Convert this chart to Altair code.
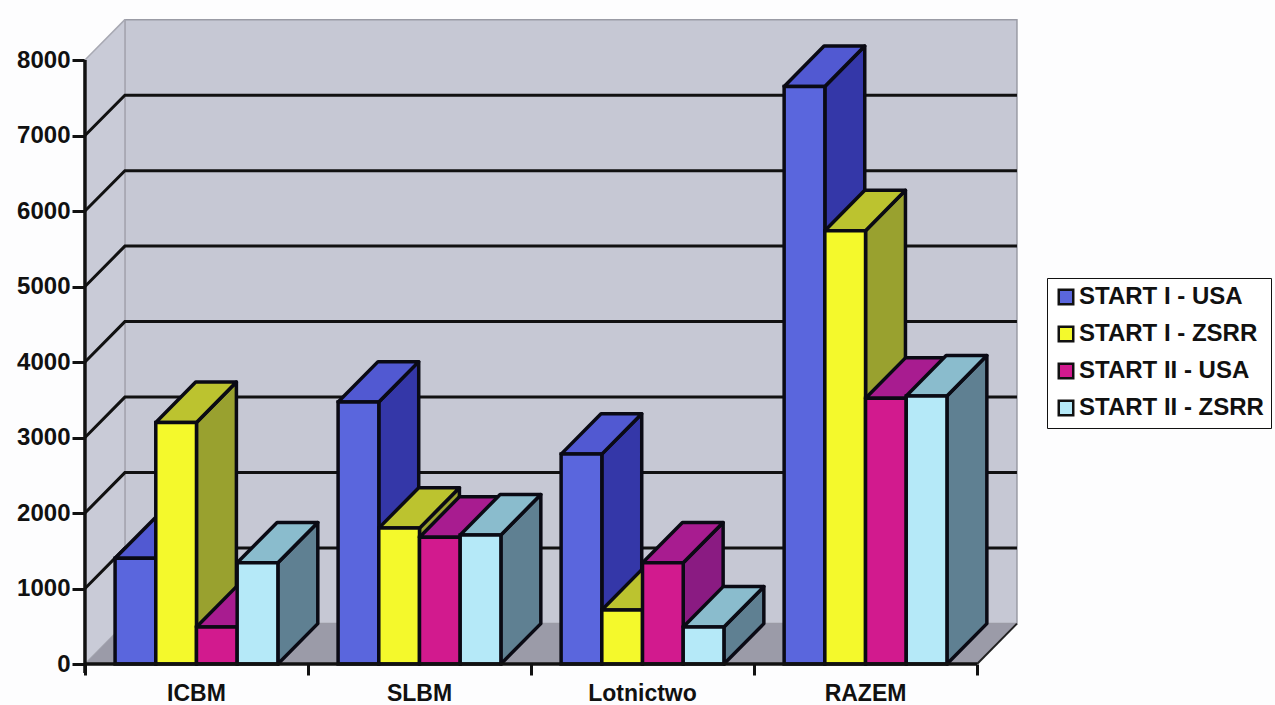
import altair as alt
import pandas as pd

categories = ["ICBM", "SLBM", "Lotnictwo", "RAZEM"]
series = ["START I - USA", "START I - ZSRR", "START II - USA", "START II - ZSRR"]
start1_usa = [1400, 3470, 2780, 7650]
start1_zsrr = [3200, 1800, 715, 5740]
start2_usa = [490, 1680, 1340, 3520]
start2_zsrr = [1340, 1710, 490, 3550]
values = [start1_usa, start1_zsrr, start2_usa, start2_zsrr]
y_ticks = [0, 1000, 2000, 3000, 4000, 5000, 6000, 7000, 8000]
x_ticks = [0, 1, 2, 3, 4]
grid_levels = [1000, 2000, 3000, 4000, 5000, 6000, 7000]

front_colors = ["#5a66dd", "#f4f92c", "#d21a8e", "#b5e9f8"]
top_colors = ["#5159d2", "#bcc32f", "#a81c90", "#8abccd"]
side_colors = ["#3437a8", "#99a12f", "#8a1b82", "#5f8092"]

# Oblique projection: each unit of depth shifts right and up by these data amounts
DEPTH_X = 0.179
DEPTH_Y = 535
GAP = 0.135
BAR = 0.1825
OUTLINE = "#0a0a14"

x_scale = alt.Scale(domain=[-0.381, 5.336], nice=False, zero=False)
y_scale = alt.Scale(domain=[-543, 8795], nice=False, zero=False)

# Every layer carries the same axis definitions so they merge into one pair of axes
x_axis = alt.Axis(values=x_ticks, labels=False, title=None, domain=False, grid=False,
                  offset=-41, tickSize=11, tickWidth=3, tickColor="#111111")
y_axis = alt.Axis(values=y_ticks, title=None, domain=False, grid=False, offset=-85,
                  tickSize=13, tickWidth=3, tickColor="#111111", labelFont="Liberation Sans",
                  labelFontSize=24, labelFontWeight="bold", labelColor="#111111", labelPadding=2,
                  format="d")


def X(field="x"):
    return alt.X(field, type="quantitative", scale=x_scale, axis=x_axis)


def Y(field="y"):
    return alt.Y(field, type="quantitative", scale=y_scale, axis=y_axis, stack=None)


# Side face with vertical edges, from lower and upper boundaries
def side_face(x0, low, high, fill, stroke=None, width=0):
    df = pd.DataFrame({"x": [x0, x0 + DEPTH_X], "y": [low, low + DEPTH_Y], "y2": [high, high + DEPTH_Y]})
    kw = {"stroke": stroke, "strokeWidth": width} if stroke else {}
    return alt.Chart(df).mark_area(color=fill, strokeJoin="round", **kw).encode(
        x=X(), y=Y(), y2=alt.Y2("y2")
    )


# Top face with horizontal edges
def top_face(x0, x1, level, fill, stroke=None, width=0):
    df = pd.DataFrame({
        "y": [level, level + DEPTH_Y],
        "x": [x0, x0 + DEPTH_X],
        "x2": [x1, x1 + DEPTH_X],
    })
    kw = {"stroke": stroke, "strokeWidth": width} if stroke else {}
    return alt.Chart(df).mark_area(color=fill, orient="horizontal", strokeJoin="round", **kw).encode(
        y=Y(), x=X(), x2=alt.X2("x2")
    )


layers = []

# Back wall
wall_df = pd.DataFrame({"x": [DEPTH_X], "x2": [4 + DEPTH_X], "y": [DEPTH_Y], "y2": [8000 + DEPTH_Y]})
layers.append(
    alt.Chart(wall_df).mark_rect(color="#c6c8d4", stroke="#9a9ba5", strokeWidth=1.5).encode(
        x=X(), x2=alt.X2("x2"), y=Y(), y2=alt.Y2("y2"),
    )
)

# Left wall and floor
layers.append(side_face(0, 0, 8000, "#c9cbd7", "#a8a9b3", 1.5))
layers.append(top_face(0, 4, 0, "#9b9ba8"))

# Gridlines run across the left wall and along the back wall
for level in grid_levels:
    grid_df = pd.DataFrame({"x": [0, DEPTH_X, 4 + DEPTH_X], "y": [level, level + DEPTH_Y, level + DEPTH_Y]})
    layers.append(
        alt.Chart(grid_df).mark_line(color="#111111", strokeWidth=3).encode(x=X(), y=Y())
    )

# Floor's right edge
edge_df = pd.DataFrame({"x": [4, 4 + DEPTH_X], "y": [0, DEPTH_Y]})
layers.append(alt.Chart(edge_df).mark_line(color="#222222", strokeWidth=2).encode(x=X(), y=Y()))

# Bars are painted left to right so each covers the side of the previous one
for c, category in enumerate(categories):
    for s, name in enumerate(series):
        x0 = c + GAP + s * BAR
        x1 = x0 + BAR
        v = values[s][c]
        layers.append(side_face(x1, 0, v, side_colors[s], OUTLINE, 3.5))
        layers.append(top_face(x0, x1, v, top_colors[s], OUTLINE, 3.5))
        front_df = pd.DataFrame({"x": [x0], "x2": [x1], "y": [0], "y2": [v], "series": [name]})
        layers.append(
            alt.Chart(front_df).mark_rect(stroke=OUTLINE, strokeWidth=3.5).encode(
                x=X(), x2=alt.X2("x2"), y=Y(), y2=alt.Y2("y2"),
                color=alt.Color(
                    "series:N",
                    scale=alt.Scale(domain=series, range=front_colors),
                    sort=series,
                    legend=alt.Legend(
                        title=None, orient="none", legendX=1047, legendY=278,
                        fillColor="#ffffff", strokeColor="#111111", padding=7,
                        symbolType="square", symbolSize=210, symbolStrokeColor="#111111",
                        symbolStrokeWidth=2.5, labelFont="Liberation Sans", labelFontSize=24,
                        labelFontWeight="bold", labelColor="#111111", labelLimit=260,
                        rowPadding=11, labelOffset=1,
                    ),
                ),
            )
        )

# Value axis line and category axis line
axis_v = pd.DataFrame({"x": [0, 0], "y": [-120, 8000]})
layers.append(alt.Chart(axis_v).mark_line(color="#111111", strokeWidth=3.5).encode(x=X(), y=Y()))
axis_h = pd.DataFrame({"x": [0, 4], "y": [0, 0]})
layers.append(alt.Chart(axis_h).mark_line(color="#111111", strokeWidth=3.5).encode(x=X(), y=Y()))

# Category names
label_df = pd.DataFrame({"x": [i + 0.5 for i in range(len(categories))], "y": [-395] * 4, "label": categories})
layers.append(
    alt.Chart(label_df).mark_text(
        font="Liberation Sans", fontSize=23, fontWeight="bold", color="#111111", baseline="middle"
    ).encode(x=X(), y=Y(), text="label:N")
)

chart = alt.layer(*layers).properties(
    width=1275,
    height=705,
    padding=0,
    autosize=alt.AutoSizeParams(type="none"),
    background="#fdfdfe",
).configure_view(stroke=None)

chart.save("out.html", embed_options={"renderer": "svg", "actions": False})
